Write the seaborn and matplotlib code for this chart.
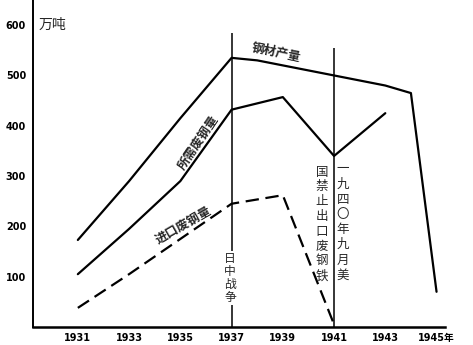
import matplotlib
matplotlib.use("Agg")
import matplotlib.pyplot as plt
import seaborn as sns
import pandas as pd

# ---- data ----
prod_years = [1931, 1933, 1935, 1937, 1938, 1941, 1943, 1944, 1945]
prod_vals = [173, 290, 415, 535, 530, 500, 480, 465, 70]

need_years = [1931, 1933, 1935, 1937, 1939, 1941, 1943]
need_vals = [105, 195, 290, 432, 457, 340, 425]

imp_years = [1931, 1933, 1935, 1937, 1939, 1941]
imp_vals = [38, 105, 175, 245, 262, 5]

x_ticks = [1931, 1933, 1935, 1937, 1939, 1941, 1943, 1945]
x_labels = ["1931", "1933", "1935", "1937", "1939", "1941", "1943", "1945年"]
y_ticks = [100, 200, 300, 400, 500, 600]
y_labels = ["100", "200", "300", "400", "500", "600"]

events = [1937, 1941]
event_tops = [584, 555]

sns.set_style("white")
plt.rcParams['font.family'] = ['Noto Sans CJK SC', 'DejaVu Sans']

W, H = 473, 345
fig = plt.figure(figsize=(W / 100, H / 100), dpi=100)
ax = fig.add_axes([33 / W, 18 / H, (445 - 33) / W, 327 / H])

df_prod = pd.DataFrame({"year": prod_years, "v": prod_vals})
df_need = pd.DataFrame({"year": need_years, "v": need_vals})
df_imp = pd.DataFrame({"year": imp_years, "v": imp_vals})

sns.lineplot(data=df_prod, x="year", y="v", ax=ax, color="black", linewidth=1.6)
sns.lineplot(data=df_need, x="year", y="v", ax=ax, color="black", linewidth=1.6)
sns.lineplot(data=df_imp, x="year", y="v", ax=ax, color="black", linewidth=1.6,
             linestyle=(0, (6, 3)))

for yr, top in zip(events, event_tops):
    ax.vlines(yr, 0, top, color="black", linewidth=1.1)

ax.set_xlim(1929.25, 1945.33)
ax.set_ylim(0, 650)
ax.set_xlabel("")
ax.set_ylabel("")
for s in ["top", "right"]:
    ax.spines[s].set_visible(False)
ax.spines["left"].set_linewidth(1.4)
ax.spines["bottom"].set_linewidth(1.8)
ax.spines["left"].set_color("black")
ax.spines["bottom"].set_color("black")

tick_font = ['DejaVu Sans', 'Noto Sans CJK SC']
ax.set_xticks(x_ticks)
ax.set_xticklabels(x_labels, fontsize=7, fontweight="bold", family=tick_font)
ax.set_yticks(y_ticks)
ax.set_yticklabels(y_labels, fontsize=7, fontweight="bold", family=tick_font)
ax.tick_params(axis="both", direction="in", length=4, width=1.0, colors="black", pad=4)
ax.tick_params(axis="y", pad=5)


def px(x, y):
    """convert reference pixel position to data coords"""
    return 1938 + (x - 257.2) / 25.63, (327 - y) / 0.503


ax.text(*px(38, 25), "万吨", fontsize=10, ha="left", va="center", fontweight="medium")
ax.text(*px(276, 53), "钢材产量", fontsize=9, ha="center", va="center", rotation=-12,
        fontweight="bold")
ax.text(*px(198, 142), "所需废钢量", fontsize=9, ha="center", va="center", rotation=56,
        fontweight="bold")
ax.text(*px(183, 225), "进口废钢量", fontsize=9, ha="center", va="center", rotation=30,
        fontweight="bold")
ax.text(*px(230, 278), "日\n中\n战\n争", fontsize=8.5, ha="center", va="center",
        linespacing=1.0, bbox=dict(facecolor="white", edgecolor="none", pad=0.5))
ax.text(*px(343, 222), "一\n九\n四\n〇\n年\n九\n月\n美", fontsize=9, ha="center",
        va="center", linespacing=1.22)
ax.text(*px(322, 224), "国\n禁\n止\n出\n口\n废\n钢\n铁", fontsize=9, ha="center",
        va="center", linespacing=1.18)

fig.savefig("out.png", dpi=100)
